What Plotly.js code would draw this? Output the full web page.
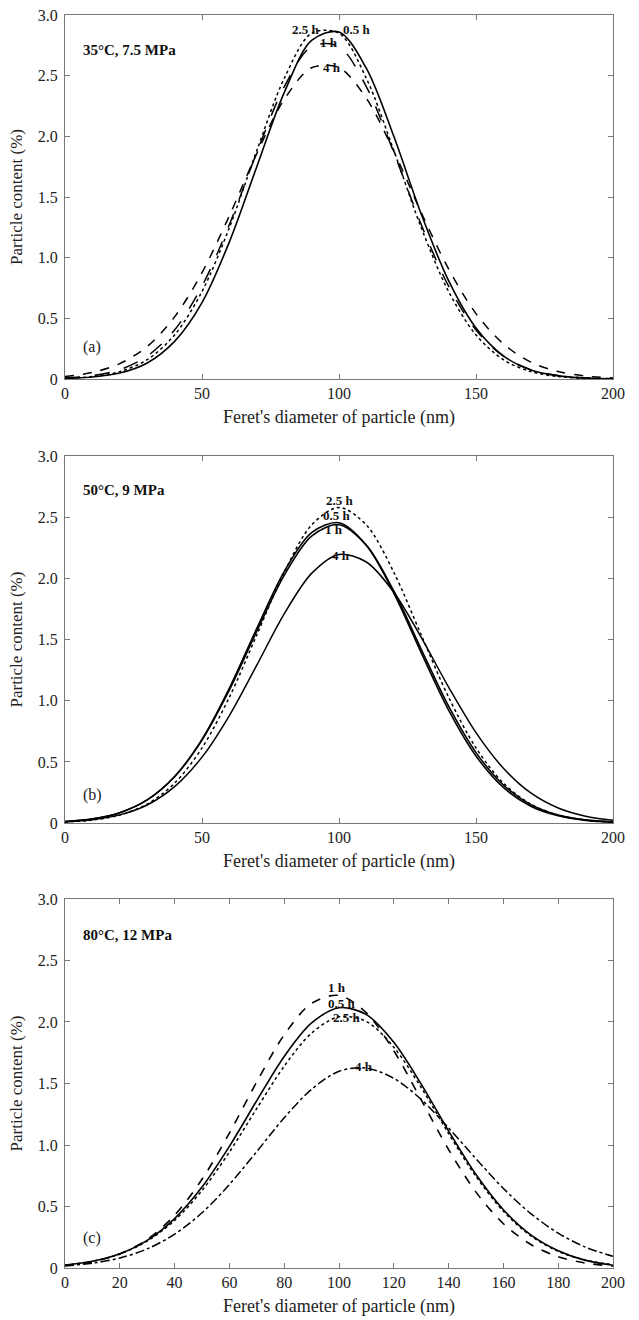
<!DOCTYPE html>
<html>
<head>
<meta charset="utf-8">
<script src="https://cdn.plot.ly/plotly-3.0.1.min.js"></script>
<style>html,body{margin:0;padding:0;background:#fff;}#chart{width:639px;height:1320px;}</style>
</head>
<body>
<div id="chart"></div>
<script>
// ---------- shared x grid (nm) ----------
const xGrid = [0,10,20,30,40,50,60,70,80,90,100,110,120,130,140,150,160,170,180,190,200];

// ---------- Panel (a): 35°C, 7.5 MPa ----------
const a05 = [0.005,0.016,0.049,0.132,0.31,0.63,1.13,1.75,2.36,2.79,2.86,2.56,2.0,1.36,0.81,0.42,0.19,0.074,0.026,0.008,0.002];
const a1  = [0.009,0.028,0.077,0.188,0.404,0.765,1.273,1.866,2.408,2.74,2.74,2.408,1.866,1.273,0.765,0.404,0.188,0.077,0.028,0.009,0.003];
const a25 = [0.006,0.020,0.061,0.159,0.363,0.721,1.248,1.883,2.477,2.85,2.85,2.477,1.883,1.248,0.721,0.363,0.159,0.061,0.020,0.006,0.002];
const a4  = [0.020,0.054,0.127,0.268,0.512,0.876,1.346,1.858,2.304,2.565,2.566,2.313,1.878,1.373,0.907,0.539,0.289,0.139,0.061,0.024,0.008];

// ---------- Panel (b): 50°C, 9 MPa ----------
const b05 = [0.012,0.033,0.084,0.189,0.380,0.684,1.103,1.591,2.055,2.374,2.455,2.271,1.88,1.393,0.923,0.548,0.291,0.138,0.059,0.022,0.008];
const b1  = [0.012,0.034,0.085,0.189,0.379,0.678,1.088,1.568,2.025,2.346,2.439,2.27,1.897,1.421,0.955,0.576,0.311,0.151,0.066,0.026,0.009];
const b25 = [0.008,0.025,0.065,0.155,0.326,0.614,1.029,1.538,2.05,2.436,2.58,2.436,2.05,1.538,1.029,0.614,0.326,0.155,0.065,0.025,0.008];
const b4  = [0.010,0.027,0.067,0.148,0.298,0.539,0.879,1.291,1.71,2.041,2.196,2.134,1.887,1.518,1.111,0.739,0.448,0.246,0.123,0.056,0.023];

// ---------- Panel (c): 80°C, 12 MPa ----------
const c05 = [0.024,0.055,0.116,0.225,0.402,0.658,0.989,1.361,1.72,1.992,2.116,2.06,1.835,1.495,1.114,0.76,0.474,0.270,0.141,0.062,0.022];
const c1  = [0.020,0.051,0.114,0.232,0.429,0.721,1.097,1.514,1.895,2.152,2.216,2.074,1.766,1.367,0.963,0.617,0.36,0.191,0.092,0.040,0.016];
const c25 = [0.024,0.054,0.114,0.219,0.387,0.630,0.943,1.297,1.641,1.91,2.042,2.004,1.795,1.467,1.093,0.744,0.461,0.261,0.135,0.064,0.027];
const c4  = [0.017,0.039,0.081,0.155,0.275,0.449,0.679,0.947,1.221,1.453,1.599,1.625,1.542,1.37,1.139,0.888,0.647,0.442,0.283,0.169,0.095];

// ---------- Tick labels and texts ----------
const yTickVals = [0,0.5,1,1.5,2,2.5,3];
const yTickText = ['0','0.5','1.0','1.5','2.0','2.5','3.0'];
const xTicksAB = [0,50,100,150,200];
const xTicksC = [0,20,40,60,80,100,120,140,160,180,200];
const panelTitles = ['35°C, 7.5 MPa','50°C, 9 MPa','80°C, 12 MPa'];
const panelTags = ['(a)','(b)','(c)'];
const xTitle = "Feret's diameter of particle (nm)";
const yTitle = 'Particle content (%)';

const FONT = 'Times New Roman, Liberation Serif, serif';

function tr(y, ax, dash, w) {
  return {x: xGrid, y: y, xaxis: 'x' + ax, yaxis: 'y' + ax, type: 'scatter', mode: 'lines',
    line: {color: '#000', width: w || 1.6, dash: dash, shape: 'spline', smoothing: 0.9},
    showlegend: false, hoverinfo: 'skip'};
}

const data = [
  tr(a4, '', 'dash', 1.5), tr(a1, '', 'longdash', 1.5), tr(a25, '', 'dot', 1.5), tr(a05, '', 'solid', 1.6),
  tr(b4, '2', 'solid', 1.5), tr(b1, '2', 'solid', 1.6), tr(b25, '2', 'dot', 1.5), tr(b05, '2', 'solid', 1.6),
  tr(c4, '3', 'dashdot', 1.5), tr(c1, '3', 'dash', 1.6), tr(c25, '3', 'dot', 1.5), tr(c05, '3', 'solid', 1.6)
];

function xa(anchor, ticks) {
  return {anchor: anchor, domain: [0, 1], range: [0, 200], tickvals: ticks, ticktext: ticks.map(String),
    ticks: 'inside', ticklen: 5, tickcolor: '#777', showline: true, linecolor: '#777', linewidth: 1,
    mirror: 'ticks', showgrid: false, zeroline: false,
    tickfont: {family: FONT, size: 16, color: '#222'},
    title: {text: xTitle, font: {family: FONT, size: 18, color: '#222'}, standoff: 9}};
}
function ya(anchor, dom) {
  return {anchor: anchor, domain: dom, range: [0, 3], tickvals: yTickVals, ticktext: yTickText,
    ticks: 'inside', ticklen: 5, tickcolor: '#777', showline: true, linecolor: '#777', linewidth: 1,
    mirror: 'ticks', showgrid: false, zeroline: false, ticklabelstandoff: 3,
    tickfont: {family: FONT, size: 16, color: '#222'},
    title: {text: yTitle, font: {family: FONT, size: 17, color: '#222'}, standoff: 10}};
}

const ann = [];
const axs = [['x','y'],['x2','y2'],['x3','y3']];
const titleY = [2.71, 2.72, 2.71];
const tagY = [0.26, 0.23, 0.24];
for (let i = 0; i < 3; i++) {
  ann.push({xref: axs[i][0], yref: axs[i][1], x: 6, y: titleY[i], text: '<b>' + panelTitles[i] + '</b>',
    showarrow: false, xanchor: 'left', yanchor: 'middle', font: {family: FONT, size: 15, color: '#111'}});
  ann.push({xref: axs[i][0], yref: axs[i][1], x: 10, y: tagY[i], text: panelTags[i],
    showarrow: false, xanchor: 'center', yanchor: 'middle', font: {family: FONT, size: 16, color: '#222'}});
}
// curve labels
const curveLabels = [
  ['x','y',88,2.88,'2.5 h'],['x','y',106.6,2.88,'0.5 h'],['x','y',96.4,2.77,'1 h'],['x','y',97.5,2.57,'4 h'],
  ['x2','y2',100.4,2.64,'2.5 h'],['x2','y2',99.3,2.51,'0.5 h'],['x2','y2',98,2.40,'1 h'],['x2','y2',100.7,2.19,'4 h'],
  ['x3','y3',99.3,2.28,'1 h'],['x3','y3',101,2.15,'0.5 h'],['x3','y3',103,2.04,'2.5 h'],['x3','y3',109,1.64,'4 h']
];
curveLabels.forEach(c => ann.push({xref: c[0], yref: c[1], x: c[2], y: c[3], text: '<b>' + c[4] + '</b>',
  showarrow: false, xanchor: 'center', yanchor: 'middle', font: {family: FONT, size: 13, color: '#111'}}));

const layout = {
  width: 639, height: 1320,
  margin: {l: 65, r: 26, t: 15, b: 52},
  paper_bgcolor: '#fff', plot_bgcolor: '#fff',
  font: {family: FONT, color: '#222'},
  showlegend: false,
  xaxis: xa('y', xTicksAB), yaxis: ya('x', [0.7095, 1]),
  xaxis2: xa('y2', xTicksAB), yaxis2: ya('x2', [0.3551, 0.648]),
  xaxis3: xa('y3', xTicksC), yaxis3: ya('x3', [0, 0.2945]),
  annotations: ann
};

Plotly.newPlot('chart', data, layout, {staticPlot: true, displayModeBar: false});
</script>
</body>
</html>
